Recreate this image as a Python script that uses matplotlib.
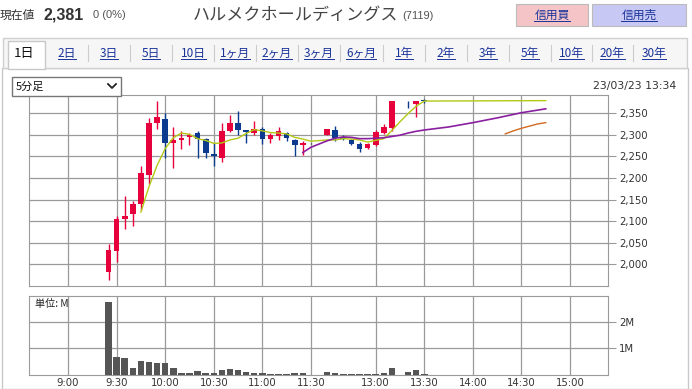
import matplotlib
matplotlib.use('Agg')
from matplotlib import pyplot as plt
from matplotlib.patches import Rectangle
from matplotlib.lines import Line2D

W, H = 692, 389
JP = ['Noto Sans CJK JP', 'DejaVu Sans']

# 5-minute candles (time, open, high, low, close) and volume in millions
times = ['9:25', '9:30', '9:35', '9:40', '9:45', '9:50', '9:55', '10:00', '10:05', '10:10',
         '10:15', '10:20', '10:25', '10:30', '10:35', '10:40', '10:45', '10:50', '10:55', '11:00',
         '11:05', '11:10', '11:15', '11:20', '11:25', '11:30',
         '12:30', '12:35', '12:40', '12:45', '12:50', '12:55', '13:00', '13:05', '13:10',
         '13:20', '13:25', '13:30']
opens = [1982, 2031, 2104, 2116, 2139, 2208, 2327, 2336, 2282, 2288,
         2295, 2304, 2290, 2256, 2246, 2308, 2327, 2311, 2305, 2313,
         2290, 2296, 2304, 2288, 2276, 2280,
         2300, 2310, 2295, 2288, 2279, 2269, 2276, 2304, 2315,
         2378, 2371, 2381]
highs = [2047, 2112, 2158, 2146, 2227, 2338, 2378, 2350, 2318, 2308,
         2305, 2308, 2292, 2280, 2327, 2346, 2354, 2311, 2331, 2318,
         2305, 2318, 2307, 2290, 2285, 2281,
         2313, 2321, 2300, 2290, 2284, 2281, 2311, 2325, 2378,
         2378, 2378, 2382]
lows = [1965, 2005, 2081, 2089, 2127, 2185, 2313, 2246, 2223, 2267,
        2277, 2246, 2246, 2227, 2238, 2306, 2300, 2282, 2300, 2278,
        2280, 2288, 2286, 2250, 2254, 2279,
        2300, 2285, 2288, 2276, 2259, 2268, 2274, 2302, 2309,
        2362, 2342, 2373]
closes = [2033, 2104, 2113, 2139, 2212, 2328, 2342, 2282, 2288, 2292,
          2300, 2290, 2258, 2250, 2309, 2328, 2310, 2306, 2313, 2290,
          2299, 2308, 2293, 2276, 2280, 2280,
          2313, 2292, 2291, 2279, 2268, 2279, 2306, 2318, 2378,
          2377, 2377, 2379]
volumes = [2.75, 0.69, 0.65, 0.28, 0.54, 0.49, 0.46, 0.46, 0.28, 0.09,
           0.09, 0.16, 0.09, 0.09, 0.19, 0.23, 0.19, 0.12, 0.09, 0.09,
           0.03, 0.05, 0.05, 0.09, 0.06, 0.0,
           0.12, 0.09, 0.02, 0.02, 0.04, 0.03, 0.05, 0.09, 0.28,
           0.10, 0.20, 0.02]

# moving average lines
ma5_times = ['9:45', '9:50', '9:55', '10:00', '10:05', '10:10', '10:15', '10:20', '10:25', '10:30',
             '10:35', '10:40', '10:45', '10:50', '10:55', '11:00', '11:05', '11:10', '11:15', '11:20',
             '11:25', '11:30', '12:30', '12:35', '12:40', '12:45', '12:50', '12:55', '13:00', '13:05',
             '13:10', '13:15', '13:20', '13:25', '13:30', '14:45']
ma5_vals = [2121, 2180, 2229, 2268, 2293, 2304, 2301, 2291, 2287, 2280,
            2281, 2288, 2292, 2303, 2312, 2309, 2305, 2304, 2302, 2294,
            2290, 2285, 2288, 2288, 2291, 2290, 2288, 2283, 2287, 2291,
            2310, 2330, 2349, 2366, 2378, 2379]
ma25_times = ['11:25', '11:30', '12:30', '12:35', '12:40', '12:45', '12:50', '12:55', '13:00', '13:05',
              '13:10', '13:15', '13:20', '13:25', '13:30', '13:45', '14:00', '14:15', '14:30', '14:45']
ma25_vals = [2259, 2271, 2286, 2292, 2295, 2294, 2291, 2291, 2292, 2293,
             2296, 2299, 2304, 2308, 2311, 2318, 2328, 2339, 2351, 2360]
ma50_times = ['14:20', '14:25', '14:30', '14:35', '14:40', '14:45']
ma50_vals = [2302, 2309, 2315, 2320, 2325, 2328]

xtick_labels = ['9:00', '9:30', '10:00', '10:30', '11:00', '11:30',
                '13:00', '13:30', '14:00', '14:30', '15:00']
price_ticks = [2000, 2050, 2100, 2150, 2200, 2250, 2300, 2350]
vol_ticks = [1, 2]
tabs = ['1日', '2日', '3日', '5日', '10日', '1ヶ月', '2ヶ月', '3ヶ月', '6ヶ月',
        '1年', '2年', '3年', '5年', '10年', '20年', '30年']
tab_x = [24, 67, 109, 151, 193, 235, 277, 319, 361, 404, 446, 488, 530, 571, 612, 654]


def slot(t):
    h, m = map(int, t.split(':'))
    mins = h * 60 + m
    if mins <= 11 * 60 + 30:
        return (mins - 540) / 5
    return 32 + (mins - 750) / 5


def fx(x):
    return x / W


def fy(y):
    return 1 - y / H


fig = plt.figure(figsize=(W / 100, H / 100), dpi=100)
fig.patch.set_facecolor('white')

# page frame and tab strip
fig.add_artist(Rectangle((fx(2), fy(389)), fx(686), 1 - fy(321), transform=fig.transFigure,
                         facecolor='white', edgecolor='#c8c8c8', lw=1, zorder=0))
fig.add_artist(Rectangle((fx(3), fy(68)), fx(684), fy(38) - fy(68), transform=fig.transFigure,
                         facecolor='#f6f6f6', edgecolor='#d0d0d0', lw=1, zorder=1))
fig.add_artist(Rectangle((fx(8), fy(69)), fx(37), fy(41) - fy(69), transform=fig.transFigure,
                         facecolor='white', edgecolor='#c8c8c8', lw=1, zorder=2))

red = '#e6003c'
blue = '#0b3a8f'

ax = fig.add_axes([fx(29), fy(286), fx(579), fy(95) - fy(286)])
vax = fig.add_axes([fx(29), fy(375), fx(579), fy(296) - fy(375)])

xs = [slot(t) for t in times]
for x, o, hi, lo, c in zip(xs, opens, highs, lows, closes):
    col = red if c >= o else blue
    if o == c and hi - lo < 3:
        col = '#333333'
    ax.vlines(x, lo, hi, color=col, lw=1, zorder=3)
    ax.bar(x, max(abs(c - o), 1.5), bottom=min(o, c), width=0.7, color=col, zorder=4)

ax.plot([slot(t) for t in ma5_times], ma5_vals, color='#b4c814', lw=1, zorder=5)
ax.plot([slot(t) for t in ma25_times], ma25_vals, color='#8a1fa0', lw=1.2, zorder=5)
ax.plot([slot(t) for t in ma50_times], ma50_vals, color='#d2691e', lw=1, zorder=5)

vax.bar(xs, volumes, width=0.8, color='#555555', zorder=3)

xt = [slot(t) for t in xtick_labels]
for a in (ax, vax):
    a.set_xlim(-4.82, 66.69)
    a.set_xticks(xt)
    a.grid(True, color='#9a9a9a', lw=0.9)
    a.set_axisbelow(True)
    for s in a.spines.values():
        s.set_color('#9a9a9a')
    a.yaxis.tick_right()
    a.tick_params(axis='y', length=6, color='#9a9a9a', labelsize=7.3, labelcolor='#333333', pad=2)
    a.tick_params(axis='x', length=0, labelsize=7.3, labelcolor='#333333', pad=2)

ax.set_ylim(1950, 2392)
ax.set_yticks(price_ticks)
ax.set_yticklabels([f'{v:,}' for v in price_ticks])
ax.set_xticklabels([])

vax.set_ylim(0, 2.965)
vax.set_yticks(vol_ticks)
vax.set_yticklabels([f'{v}M' for v in vol_ticks])
vax.set_xticklabels(xtick_labels)
vax.text(6 / 579, 1 - 8 / 79, '単位: M', transform=vax.transAxes, fontsize=7.3,
         family=JP, color='#222222', va='center', ha='left')

# header
fig.text(fx(0), fy(15), '現在値', family=JP, fontsize=8.5, color='#333333', va='center')
fig.text(fx(43), fy(15), '2,381', family='Liberation Sans', fontweight='bold', fontsize=11.5,
         color='#333333', va='center')
fig.text(fx(93), fy(15), '0 (0%)', family='Liberation Sans', fontsize=8, color='#555555', va='center')
fig.text(fx(193), fy(15), 'ハルメクホールディングス', family=JP, fontsize=12.3, color='#444444', va='center')
fig.text(fx(402), fy(16), '(7119)', family='Liberation Sans', fontsize=8, color='#555555', va='center')

links = []
for (x0, x1, fc, label) in [(516, 588, '#f4c4c6', '信用買'), (592, 686, '#c8c8f4', '信用売')]:
    fig.add_artist(Rectangle((fx(x0), fy(26)), fx(x1 - x0), fy(4) - fy(26), transform=fig.transFigure,
                             facecolor=fc, edgecolor='#bbbbbb', lw=0.8))
    links.append(fig.text(fx((x0 + x1) / 2), fy(15), label, family=JP, fontsize=8.5, color='#1a3399',
                          ha='center', va='center'))

for i, (lab, x) in enumerate(zip(tabs, tab_x)):
    if i == 0:
        fig.text(fx(x), fy(53), lab, family=JP, fontsize=9.5, color='#111111', ha='center', va='center',
                 zorder=3)
    else:
        links.append(fig.text(fx(x), fy(53), lab, family=JP, fontsize=8.5, color='#1a3399',
                              ha='center', va='center', zorder=3))
    if 0 < i < len(tabs) - 1:
        sx = (x + tab_x[i + 1]) / 2
        fig.add_artist(Line2D([fx(sx), fx(sx)], [fy(45), fy(61)], color='#cccccc', lw=0.8, zorder=3))

# dropdown and timestamp
fig.add_artist(Rectangle((fx(12), fy(96)), fx(109), fy(77) - fy(96), transform=fig.transFigure,
                         facecolor='white', edgecolor='#777777', lw=1, zorder=6))
fig.text(fx(16), fy(86.5), '5分足', family=JP, fontsize=8, color='#111111', va='center', zorder=7)
fig.add_artist(Line2D([fx(108), fx(112), fx(116)], [fy(84), fy(88), fy(84)], color='#222222', lw=1.3,
                      zorder=7))
fig.text(fx(676), fy(86), '23/03/23 13:34', family='DejaVu Sans', fontsize=7.8, color='#333333',
         ha='right', va='center')

# underline the links
fig.canvas.draw()
r = fig.canvas.get_renderer()
for t in links:
    bb = t.get_window_extent(r)
    fig.add_artist(Line2D([bb.x0 / W, bb.x1 / W], [(bb.y0 + 1) / H] * 2, color=t.get_color(), lw=0.7,
                          zorder=3))

fig.savefig('out.png', dpi=100)
